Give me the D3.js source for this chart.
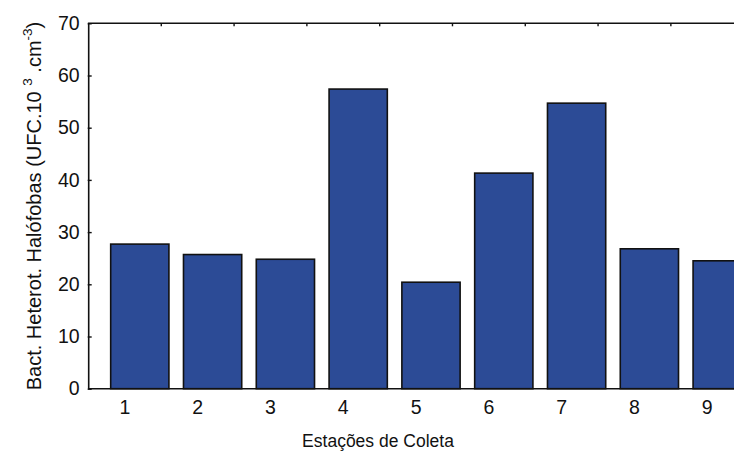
<!DOCTYPE html>
<html>
<head>
<meta charset="utf-8">
<script src="https://cdn.jsdelivr.net/npm/d3@7/dist/d3.min.js"></script>
<style>
  html, body { margin: 0; padding: 0; background: #fff; }
  svg { display: block; }
  text { font-family: "Liberation Sans", Arial, sans-serif; fill: #111; }
</style>
</head>
<body>
<svg id="chart" width="734" height="454"></svg>
<script>
// Station numbers along the x axis
const stations = ["1", "2", "3", "4", "5", "6", "7", "8", "9"];
// Halophobic heterotrophic bacteria counts (UFC.10^3.cm^-3)
const counts = [27.7, 25.7, 24.8, 57.4, 20.4, 41.3, 54.7, 26.8, 24.5];
// Y axis ticks
const yTicks = [0, 10, 20, 30, 40, 50, 60, 70];

const svg = d3.select("#chart");
const margin = { left: 88.7, top: 23.3, bottom: 388.7 };
const plotRight = 773.3; // frame continues past the visible edge

const x = d3.scaleBand()
  .domain(stations)
  .range([margin.left, plotRight])
  .paddingInner(0.2)
  .paddingOuter(0.302);

const y = d3.scaleLinear()
  .domain([0, 70])
  .range([margin.bottom, margin.top]);

const barFill = "#2c4b96";

// Bars
svg.append("g")
  .selectAll("rect")
  .data(stations.map((s, i) => ({ s, v: counts[i] })))
  .join("rect")
  .attr("x", d => x(d.s))
  .attr("y", d => y(d.v))
  .attr("width", x.bandwidth())
  .attr("height", d => y(0) - y(d.v))
  .attr("fill", barFill)
  .attr("stroke", "#111")
  .attr("stroke-width", 1.6);

// Frame lines (left, top, bottom)
svg.append("path")
  .attr("d", `M${plotRight},${margin.top}H${margin.left}V${margin.bottom}H${plotRight}`)
  .attr("stroke", "#111").attr("stroke-width", 1.6).attr("fill", "none");

// Left axis: short inward ticks with labels
const yAxis = d3.axisLeft(y)
  .tickValues(yTicks)
  .tickSizeInner(-3)
  .tickSizeOuter(0)
  .tickPadding(9);
const gy = svg.append("g")
  .attr("transform", `translate(${margin.left},0)`)
  .call(yAxis);
gy.select(".domain").remove();
gy.selectAll(".tick line").attr("stroke", "#111").attr("stroke-width", 1.4).attr("x1", -1);
gy.selectAll(".tick text")
  .attr("font-size", 19.5)
  .attr("font-family", "Liberation Sans, Arial, sans-serif")
  .attr("fill", "#111");

// Bottom axis labels (no ticks), set slightly left of the bar centres
const step = x.step();
const gx = svg.append("g")
  .attr("transform", `translate(${-0.205 * step},${margin.bottom})`)
  .call(d3.axisBottom(x).tickSize(0).tickPadding(11));
gx.select(".domain").remove();
gx.selectAll(".tick text")
  .attr("font-size", 19.5)
  .attr("font-family", "Liberation Sans, Arial, sans-serif")
  .attr("fill", "#111");

// Top axis: small inward ticks, unlabeled
const gt = svg.append("g")
  .attr("transform", `translate(${0.295 * step},${margin.top})`)
  .call(d3.axisTop(x).tickSizeInner(-3).tickSizeOuter(0).tickFormat(""));
gt.select(".domain").remove();
gt.selectAll(".tick line").attr("stroke", "#111").attr("stroke-width", 1.4);

// X axis title
svg.append("text")
  .attr("x", 378)
  .attr("y", 447)
  .attr("text-anchor", "middle")
  .attr("font-size", 17.5)
  .text("Estações de Coleta");

// Y axis title with superscripts
const yt = svg.append("text")
  .attr("transform", `translate(41,${(margin.top + margin.bottom) / 2}) rotate(-90)`)
  .attr("text-anchor", "middle")
  .attr("font-size", 20);
yt.append("tspan").text("Bact. Heterot. Halófobas (UFC.10 ");
yt.append("tspan").attr("font-size", 13.5).attr("dy", -9).text("3");
yt.append("tspan").attr("dy", 9).text(" .cm");
yt.append("tspan").attr("font-size", 13.5).attr("dy", -9).text("-3");
yt.append("tspan").attr("dy", 9).text(")");
</script>
</body>
</html>
